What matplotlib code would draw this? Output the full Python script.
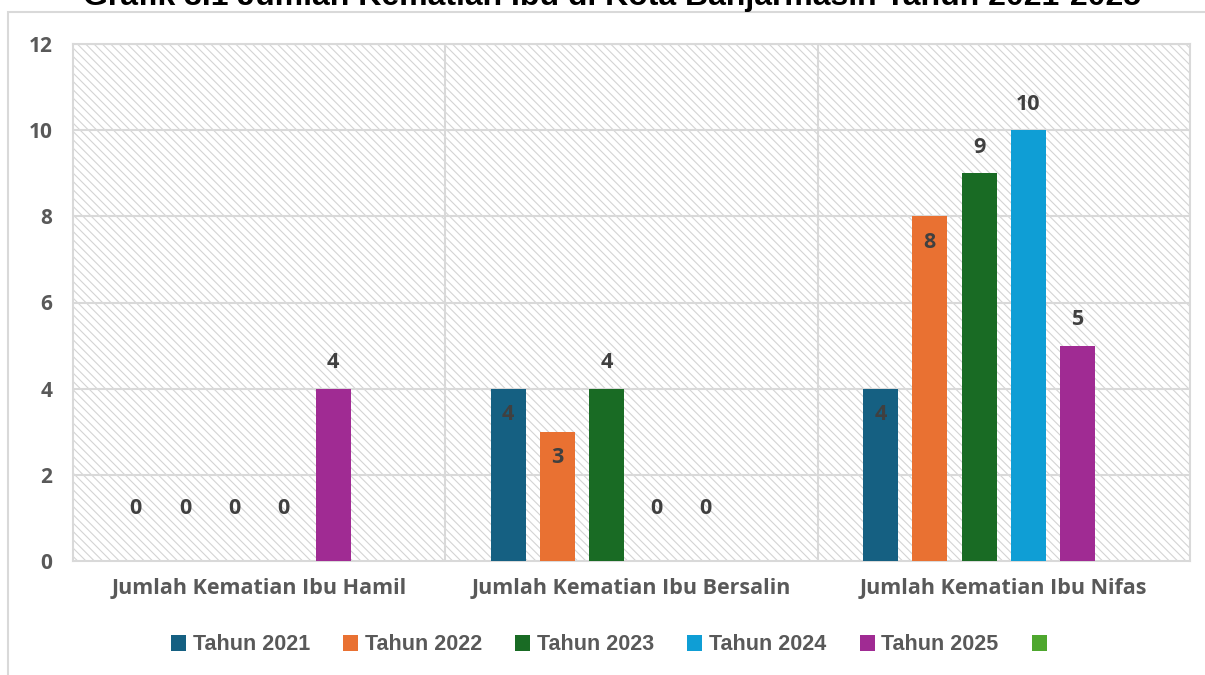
import numpy as np
import matplotlib
matplotlib.use('Agg')
import matplotlib.pyplot as plt
from matplotlib.patches import Patch, Rectangle

# data
kategori = ['Jumlah Kematian Ibu Hamil', 'Jumlah Kematian Ibu Bersalin', 'Jumlah Kematian Ibu Nifas']
tahun = ['Tahun 2021', 'Tahun 2022', 'Tahun 2023', 'Tahun 2024', 'Tahun 2025', '']
th2021 = [0, 4, 4]
th2022 = [0, 3, 8]
th2023 = [0, 4, 9]
th2024 = [0, 0, 10]
th2025 = [4, 0, 5]
th_kosong = []   # serie vuota in legenda
serie = [th2021, th2022, th2023, th2024, th2025, th_kosong]

# dove mettere l'etichetta (dentro/fuori la barra)
pos_label = [['out', 'in', 'in'],
             ['out', 'in', 'in'],
             ['out', 'out', 'out'],
             ['out', 'out', 'out'],
             ['out', 'out', 'out'],
             []]

colori = ['#156082', '#E97132', '#196B24', '#0F9ED5', '#A02B93', '#4EA72E']
grigio = '#595959'
testo_val = '#404040'
griglia = '#D9D9D9'
font_lab = 'Open Sans'

plt.rcParams['hatch.linewidth'] = 0.8

fig = plt.figure(figsize=(12.05, 6.75), dpi=100)
ax = fig.add_axes([73/1205, (675-561)/675, (1190-73)/1205, (561-44)/675])

# cornice esterna
fig.add_artist(Rectangle((8/1205, -0.1), 1.2, (675-12)/675 + 0.1, transform=fig.transFigure,
                         fill=False, edgecolor=griglia, linewidth=1.5))

# sfondo tratteggiato
ax.add_patch(Rectangle((0, 0), 1, 1, transform=ax.transAxes, facecolor='white',
                       edgecolor='#D4D4D4', hatch='\\\\\\\\', linewidth=0, zorder=0))

x = np.arange(len(kategori))
passo = 0.1325
larg = 0.094
px2pt = 0.72

for i, vals in enumerate(serie):
    if len(vals) == 0:
        continue
    xs = x + (i - 2.5) * passo
    ax.bar(xs, vals, width=larg, color=colori[i], zorder=3)
    for j, v in enumerate(vals):
        if v == 0:
            dy = 53
        elif pos_label[i][j] == 'in':
            dy = -26
        else:
            dy = 26
        ax.annotate(str(v), (xs[j], v), xytext=(0, dy * px2pt), textcoords='offset points',
                    ha='center', va='center', fontsize=15.5, fontweight='bold',
                    color=testo_val, family=font_lab, zorder=4)

ax.set_xlim(-0.5, 2.5)
ax.set_ylim(0, 12)
ax.set_yticks(np.arange(0, 13, 2))
ax.set_xticks(x)
ax.set_xticklabels(kategori, fontsize=15.5, fontweight='bold', color=grigio, family=font_lab)
for t in ax.get_yticklabels():
    t.set_fontweight('bold')
    t.set_fontsize(15)
    t.set_color(grigio)
    t.set_family(font_lab)
ax.tick_params(axis='both', length=0)
ax.tick_params(axis='y', pad=15)
ax.tick_params(axis='x', pad=12)

# griglia
for yv in np.arange(2, 13, 2):
    ax.axhline(yv, color=griglia, linewidth=1.5, zorder=1)
for xv in [0.5, 1.5]:
    ax.axvline(xv, color=griglia, linewidth=1.5, zorder=1)
for s in ax.spines.values():
    s.set_color(griglia)
    s.set_linewidth(1.5)

# titolo (tagliato in alto)
fig.text(0.508, 1 - 5/675, 'Grafik 3.1 Jumlah Kematian Ibu di Kota Banjarmasin Tahun 2021-2025',
         ha='center', va='baseline', fontsize=23, fontweight='bold', color='black',
         family='Liberation Sans')

# legenda
handles = [Patch(facecolor=c) for c in colori]
fig.legend(handles, tahun, loc='center', bbox_to_anchor=(0.508, 30/675), ncol=6,
           frameon=False, handlelength=0.7, handleheight=0.7, handletextpad=0.3,
           columnspacing=1.55,
           prop={'family': 'Liberation Sans', 'weight': 'bold', 'size': 15.5},
           labelcolor=grigio)

plt.savefig('out.png', dpi=100)
